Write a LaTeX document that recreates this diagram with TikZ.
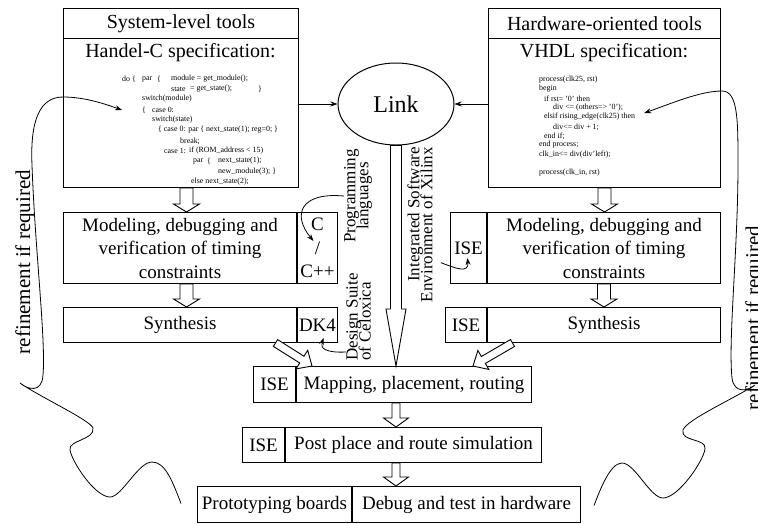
\documentclass[tikz,border=0pt]{standalone}
\usepackage{fontspec}
\setmainfont{Liberation Serif}
\usetikzlibrary{shapes.geometric,positioning,calc,arrows.meta}
\def\boxfont{\fontsize{19}{23.5}\selectfont}
\def\headfont{\fontsize{20}{24}\selectfont}
\def\tagfont{\fontsize{17}{13}\selectfont\lineskiplimit=-20pt}
\def\codefont{\fontsize{7.9}{10}\selectfont}
\newcommand{\blockarrow}[5]{%
    \path ($(#2)!#5!(#1)$) coordinate (ba-h);
    \draw[block] ($(#1)!#3!90:(#2)$) -- ($(ba-h)!#3!90:(#2)$) -- ($(ba-h)!#4!90:(#2)$) -- (#2)
        -- ($(ba-h)!#4!-90:(#2)$) -- ($(ba-h)!#3!-90:(#2)$) -- ($(#1)!#3!-90:(#2)$) -- cycle;
}

\begin{document}
\begin{tikzpicture}[x=1pt,y=-1pt,>={Stealth[length=7pt,width=5pt]}]
    \tikzstyle{box}=[draw,line width=1pt,inner sep=0pt,align=center,anchor=north west,font=\boxfont]
    \tikzstyle{head}=[box,font=\headfont]
    \tikzstyle{code}=[anchor=west,inner sep=0pt,font=\codefont]
    \tikzstyle{tag}=[rotate=90,inner sep=0pt,font=\tagfont]
    \tikzstyle{note arrow}=[->,line width=0.8pt]
    \tikzstyle{block}=[draw,fill=white,line width=0.9pt]

    \useasboundingbox (0,0) rectangle (758,523);

    % Specification boxes
    \node[head,minimum width=235pt,minimum height=30pt] (sysHead) at (63,8) {System-level tools};
    \node[box,minimum width=235pt,minimum height=149pt] (sysBody) at (63,38) {};
    \node[font=\headfont] (sysSpec) at (180.5,53) {Handel-C specification:};
    \node[head,minimum width=232pt,minimum height=30pt] (hwHead) at (488,8) {Hardware-oriented tools};
    \node[box,minimum width=232pt,minimum height=149pt] (hwBody) at (488,38) {};
    \node[font=\headfont] (hwSpec) at (604,53) {VHDL specification:};

    % Handel-C code
    \foreach \x/\y/\t [count=\i] in {122/79/{do \{}, 142/79/{par}, 157/79/{\{}, 171/79/{module = get\_module();},
        171/89/{state}, 190/89/{= get\_state();}, 258/89/{\}}, 142/99/{switch(module)},
        142/110/{\{}, 152/110/{case 0:}, 152/120/{switch(state)},
        158/130/{\{ case 0: par \{ next\_state(1); reg=0; \}}, 180/141/{break;},
        164/151/{case 1:}, 189/151/{if (ROM\_address < 15)},
        193/161/{par}, 207/161/{\{}, 218/161/{next\_state(1);},
        218/172/{new\_module(3); \}}, 191/182/{else next\_state(2);}}
        \node[code] (hc-\i) at (\x,\y) {\t};

    % VHDL code
    \foreach \x/\y/\t [count=\i] in {539/80/{process(clk25, rst)}, 539/89/{begin},
        544/99/{if rst= '0' then}, 553/108/{div <= (others=> '0');},
        544/117/{elsif rising\_edge(clk25) then}, 553/127/{div<= div + 1;},
        544/136/{end if;}, 539/145/{end process;}, 539/155/{clk\_in<= div(div'left);},
        539/173/{process(clk\_in, rst)}}
        \node[code] (vh-\i) at (\x,\y) {\t};

    \node[draw,ellipse,line width=1pt,minimum width=116pt,minimum height=82pt,
        font=\fontsize{24}{28}\selectfont] (link) at (396,104) {Link};

    % Left flow
    \node[box,minimum width=233pt,minimum height=71pt] (modL) at (63,212)
        {Modeling, debugging and\\verification of timing\\constraints};
    \node[box,minimum width=40pt,minimum height=71pt] (modLcell) at (modL.north east) {C\\/\\C++};
    \node[box,minimum width=233pt,minimum height=35pt] (synL) at (63,307) {Synthesis};
    \node[box,minimum width=40pt,minimum height=35pt] (synLcell) at (synL.north east) {DK4};

    % Right flow
    \node[box,minimum width=233pt,minimum height=71pt] (modR) at (487,212)
        {Modeling, debugging and\\verification of timing\\constraints};
    \node[box,anchor=north east,minimum width=36pt,minimum height=71pt] (modRcell) at (modR.north west) {ISE};
    \node[box,minimum width=233pt,minimum height=35pt] (synR) at (487,307) {Synthesis};
    \node[box,anchor=north east,minimum width=41pt,minimum height=35pt] (synRcell) at (synR.north west) {ISE};

    % Common flow
    \node[box,minimum width=235pt,minimum height=36pt] (map) at (296,366) {Mapping, placement, routing};
    \node[box,anchor=north east,minimum width=42pt,minimum height=36pt] (mapCell) at (map.north west) {ISE};
    \node[box,minimum width=256pt,minimum height=35pt] (post) at (285,427) {Post place and route simulation};
    \node[box,anchor=north east,minimum width=42pt,minimum height=35pt] (postCell) at (post.north west) {ISE};
    \node[box,minimum width=228pt,minimum height=36pt] (debug) at (352,486) {Debug and test in hardware};
    \node[box,anchor=north east,minimum width=154pt,minimum height=36pt] (protoCell) at (debug.north west) {Prototyping boards};

    % Tool notes
    \node[tag,align=center] (progLbl) at (358,196) {Programming\\languages};
    \node[tag,align=right,anchor=east] (intLbl) at (420,147) {Integrated Software\\Environment of Xilinx};
    \node[tag,align=left,anchor=west] (desLbl) at (358.5,361) {Design Suite\\of Celoxica};
    \node[rotate=90,font=\fontsize{21}{24}\selectfont] (refL) at (25,262) {refinement if required};
    \node[rotate=90,font=\fontsize{21}{24}\selectfont] (refR) at (755,318) {refinement if required};

    % Block arrows
    \coordinate (a1) at ($(sysBody.south)+(5.5,0)$);
    \coordinate (a1e) at (a1 |- modL.north);
    \coordinate (a2) at ($(modL.south)+(6.5,0)$);
    \coordinate (a2e) at (a2 |- synL.north);
    \coordinate (a3) at (hwBody.south);
    \coordinate (a3e) at (a3 |- modR.north);
    \coordinate (a4) at (modR.south);
    \coordinate (a4e) at (a4 |- synR.north);
    \foreach \s/\e in {a1/a1e,a2/a2e,a3/a3e,a4/a4e}
        \blockarrow{\s}{\e}{6.5pt}{13pt}{8pt};

    \coordinate (a5) at ($(synL.south)+(95.5,0)$);
    \coordinate (a5e) at ($(map.north west)+(16,0)$);
    \coordinate (a6) at ($(synR.south)+(-91.5,0)$);
    \coordinate (a6e) at ($(map.north east)+(-59,0)$);
    \foreach \s/\e in {a5/a5e,a6/a6e}
        \blockarrow{\s}{\e}{4pt}{11pt}{12pt};

    \coordinate (a7e) at (link.south |- map.north);
    \blockarrow{link.south}{a7e}{5.5pt}{10pt}{57pt};

    \coordinate (a8) at (link.south |- map.south);
    \coordinate (a8e) at (link.south |- post.north);
    \coordinate (a9) at (link.south |- post.south);
    \coordinate (a9e) at (link.south |- protoCell.north);
    \foreach \s/\e in {a8/a8e,a9/a9e}
        \blockarrow{\s}{\e}{4pt}{12.5pt}{9pt};

    % Links to the specifications
    \draw[note arrow] (sysBody.east |- link.west) -- (link.west);
    \draw[note arrow] (hwBody.west |- link.east) -- (link.east);

    % Notes pointing at the tools
    \coordinate (cTip) at ($(modLcell.center)+(-4,-7)$);
    \draw[note arrow] (progLbl.north) .. controls (300,192) and (292,215) .. (cTip);
    \coordinate (desStart) at ($(desLbl.north west)+(0,-9)$);
    \coordinate (dkTip) at ($(synLcell.center)+(6,13)$);
    \draw[note arrow] (desStart) .. controls (325,353) and (320,348) .. (dkTip);
    \coordinate (intStart) at ($(intLbl.south)+(8,38)$);
    \coordinate (iseTip) at ($(modRcell.center)+(-1,10)$);
    \draw[note arrow] (intStart) .. controls (455,268) and (469,274) .. (iseTip);

    % Refinement loops
    \coordinate (refLend) at ($(protoCell.west)+(-16,-1)$);
    \coordinate (refLtip) at ($(hc-9.west)+(-20,0)$);
    \draw[note arrow] (refLend) .. controls (172,480) and (165,462) .. (152,462)
        .. controls (138,462) and (122,497) .. (110,497)
        .. controls (95,497) and (72,462) .. (70,450)
        .. controls (68,440) and (95,440) .. (93,428)
        .. controls (90,420) and (40,397) .. (20,383)
        .. controls (28,390) and (42,393) .. (43,375)
        .. controls (46,340) and (35,250) .. (32,165)
        .. controls (30,120) and (40,97) .. (63,97)
        .. controls (85,97) and (105,104) .. (refLtip);
    \coordinate (refRend) at ($(debug.east)+(13,1)$);
    \coordinate (refRtip) at ($(vh-5.east)+(9,-4)$);
    \draw[note arrow] (refRend) .. controls (600,490) and (610,463) .. (622,463)
        .. controls (635,463) and (650,498) .. (663,498)
        .. controls (678,498) and (703,462) .. (705,449)
        .. controls (707,438) and (680,442) .. (683,430)
        .. controls (686,420) and (735,398) .. (755,385)
        .. controls (748,391) and (734,394) .. (732,378)
        .. controls (728,340) and (738,250) .. (738,165)
        .. controls (738,120) and (738,91) .. (722,91)
        .. controls (700,91) and (670,104) .. (refRtip);
\end{tikzpicture}
\end{document}
